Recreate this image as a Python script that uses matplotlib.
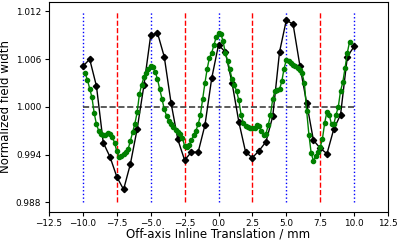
import numpy as np
import matplotlib
matplotlib.use("Agg")
import matplotlib.pyplot as plt

# black series: 0.5 mm steps
x_black = [-10.0, -9.5, -9.0, -8.5, -8.0, -7.5, -7.0, -6.5, -6.0, -5.5,
           -5.0, -4.5, -4.0, -3.5, -3.0, -2.5, -2.0, -1.5, -1.0, -0.5,
           0.0, 0.5, 1.0, 1.5, 2.0, 2.5, 3.0, 3.5, 4.0, 4.5,
           5.0, 5.5, 6.0, 6.5, 7.0, 7.5, 8.0, 8.5, 9.0, 9.5, 10.0]
y_black = [1.0051, 1.0060, 1.0026, 0.9955, 0.9937, 0.9912, 0.9896, 0.9928, 0.9972, 1.0027,
           1.0090, 1.0093, 1.0063, 1.0005, 0.9959, 0.9933, 0.9943, 0.9943, 0.9977, 1.0036,
           1.0078, 1.0069, 1.0030, 0.9981, 0.9943, 0.9936, 0.9945, 0.9956, 0.9988, 1.0069,
           1.0109, 1.0104, 1.0052, 1.0005, 0.9958, 0.9948, 0.9941, 0.9972, 0.9990, 1.0063,
           1.0076]

# green series: sampled every 1/6 mm from -59/6 to 58/6
x_green = np.arange(-59, 59) / 6.0
y_green = [1.0042, 1.0034, 1.0023, 1.0012, 0.9992, 0.9978, 0.9970, 0.9966, 0.9964, 0.9965,
           0.9967, 0.9966, 0.9962, 0.9955, 0.9944, 0.9937, 0.9938, 0.9941, 0.9943, 0.9947,
           0.9957, 0.9968, 0.9979, 0.9993, 1.0016, 1.0028, 1.0037, 1.0043, 1.0048, 1.0052,
           1.0050, 1.0044, 1.0035, 1.0022, 1.0010, 0.9997, 0.9989, 0.9982, 0.9979, 0.9975,
           0.9971, 0.9968, 0.9966, 0.9961, 0.9951, 0.9949, 0.9952, 0.9958, 0.9964, 0.9970,
           0.9978, 0.9990, 1.0010, 1.0030, 1.0048, 1.0062, 1.0068, 1.0078, 1.0088, 1.0093,
           1.0092, 1.0083, 1.0068, 1.0058, 1.0047, 1.0035, 1.0027, 1.0020, 1.0008, 0.9990,
           0.9980, 0.9976, 0.9975, 0.9973, 0.9973, 0.9974, 0.9977, 0.9976, 0.9969, 0.9964,
           0.9966, 0.9977, 0.9990, 1.0010, 1.0020, 1.0021, 1.0022, 1.0032, 1.0048, 1.0059,
           1.0058, 1.0055, 1.0053, 1.0051, 1.0049, 1.0046, 1.0042, 1.0030, 0.9995, 0.9965,
           0.9942, 0.9932, 0.9938, 0.9943, 0.9949, 0.9960, 0.9980, 0.9994, 0.9990, 0.9978,
           0.9978, 0.9990, 1.0000, 1.0020, 1.0031, 1.0049, 1.0068, 1.0082]

blue_pos = [-10, -5, 0, 5, 10]
red_pos = [-7.5, -2.5, 2.5, 7.5]
yticks = [0.988, 0.994, 1.000, 1.006, 1.012]
xticks = np.arange(-12.5, 12.6, 2.5)

fig = plt.figure(figsize=(4, 2.42), dpi=100)
ax = fig.add_axes([0.1225, 0.125, 0.8475, 0.867])

ax.vlines(blue_pos, 0.988, 1.012, colors='blue', linestyles=':', linewidth=1)
ax.vlines(red_pos, 0.988, 1.012, colors='red', linestyles='--', linewidth=1)
ax.hlines(1.0, -10, 10, colors='#404040', linestyles='--', linewidth=1.2)

ax.plot(x_black, y_black, 'k-D', markersize=3.2, linewidth=1)
ax.plot(x_green, y_green, '-o', color='green', markersize=3, linewidth=1)

ax.set_xlim(-12.5, 12.5)
ax.set_xticks(xticks)
ax.set_yticks(yticks)
ax.set_yticklabels(['%.3f' % v for v in yticks])
ax.tick_params(labelsize=6.4, length=3, pad=2.5)
ax.set_xlabel('Off-axis Inline Translation / mm', fontsize=8.5, labelpad=-0.5)
ax.set_ylabel('Normalized field width', fontsize=8.5, labelpad=3)

fig.savefig('out.png', dpi=100)
